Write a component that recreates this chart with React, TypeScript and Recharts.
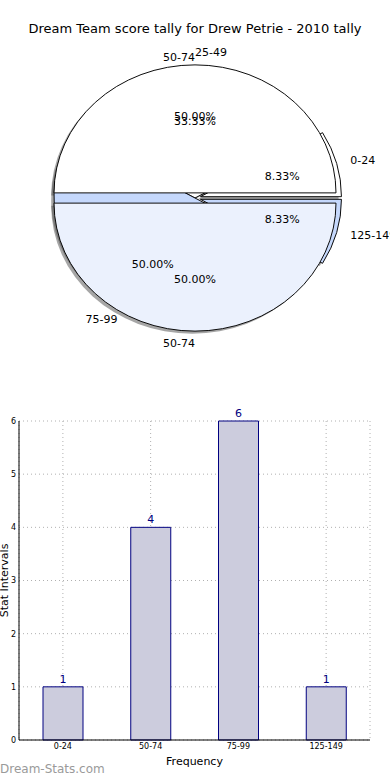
import { PieChart, Pie, Cell, BarChart, Bar, XAxis, YAxis, CartesianGrid, LabelList } from 'recharts';

// score intervals and how many games fell in each
const CATEGORIES = ['0-24', '50-74', '75-99', '125-149'];
const COUNTS = [1, 4, 6, 1];

// first pie (the real tally)
const PIE1_EXPLODE = [0.04, 0, 0, 0.04];
const PIE1_COLORS = ['#ffffff', '#ffffff', '#c5d8fc', '#c5d8fc'];
const PIE1_ANCHOR_AT_ZERO = 'end';

// second pie drawn over the first one in the source image
const PIE2_NAMES = ['25-49', '50-74'];
const PIE2_VALUES = [1, 1];
const PIE2_EXPLODE = [0.04, 0.04];
const PIE2_COLORS = ['#ffffff', '#ebf1fd'];

const Y_TICKS = [0, 1, 2, 3, 4, 5, 6];

const FONT = '"DejaVu Sans", sans-serif';
const CX = 195;
const CY = 198;
const R = 141;
const RY = 128;
const SY = RY / R;

type Slice = {
  name: string;
  value: number;
  pct: number;
  start: number;
  end: number;
  mid: number;
  offX: number;
  offY: number;
  color: string;
  zeroAnchor: string;
};

const buildSlices = (names: string[], values: number[], explode: number[], colors: string[], zeroAnchor: string): Slice[] => {
  const total = values.reduce((a, b) => a + b, 0);
  let acc = 0;
  return names.map((name, i) => {
    const start = (acc / total) * 360;
    acc += values[i];
    const end = (acc / total) * 360;
    const mid = (start + end) / 2;
    const rad = (mid * Math.PI) / 180;
    return {
      name,
      value: values[i],
      pct: (values[i] / total) * 100,
      start,
      end,
      mid,
      offX: explode[i] * R * Math.cos(rad),
      offY: -explode[i] * R * Math.sin(rad),
      color: colors[i],
      zeroAnchor,
    };
  });
};

const pie1 = buildSlices(CATEGORIES, COUNTS, PIE1_EXPLODE, PIE1_COLORS, PIE1_ANCHOR_AT_ZERO);
const pie2 = buildSlices(PIE2_NAMES, PIE2_VALUES, PIE2_EXPLODE, PIE2_COLORS, 'auto');

const barData = CATEGORIES.map((name, i) => ({ name, value: COUNTS[i] }));

const wedge = (s: Slice, key: string, shadow: boolean) => (
  <Pie
    key={key}
    data={[s]}
    dataKey="value"
    cx={CX + s.offX + (shadow ? -0.02 * R : 0)}
    cy={CY + s.offY + (shadow ? 0.02 * R : 0)}
    outerRadius={R}
    startAngle={s.start}
    endAngle={s.end}
    isAnimationActive={false}
  >
    <Cell
      fill={shadow ? '#4d4d4d' : s.color}
      fillOpacity={shadow ? 0.5 : 1}
      stroke={shadow ? 'none' : '#000'}
      strokeWidth={1}
    />
  </Pie>
);

const renderLabel = (props: any) => {
  const s: Slice = props.payload?.payload ?? props.payload ?? props;
  const a = (s.mid * Math.PI) / 180;
  const cx = CX + s.offX;
  const cy = CY + s.offY * SY;
  const cos = Math.cos(a);
  let anchor = cos > 1e-6 ? 'start' : cos < -1e-6 ? 'end' : s.zeroAnchor;
  if (anchor === 'auto') anchor = cos >= 0 ? 'start' : 'end';
  return (
    <g>
      <text
        x={cx + 1.1 * R * cos}
        y={cy - 1.1 * RY * Math.sin(a)}
        textAnchor={anchor}
        dominantBaseline="central"
        fontSize={11}
        fontFamily={FONT}
        fill="#000"
      >
        {s.name}
      </text>
      <text
        x={cx + 0.6 * R * cos}
        y={cy - 0.6 * RY * Math.sin(a)}
        textAnchor="middle"
        dominantBaseline="central"
        fontSize={11}
        fontFamily={FONT}
        fill="#000"
      >
        {s.pct.toFixed(2) + '%'}
      </text>
    </g>
  );
};

const labelPie = (s: Slice, key: string) => (
  <Pie
    key={key}
    data={[s]}
    dataKey="value"
    cx={CX + s.offX}
    cy={CY + s.offY * SY}
    outerRadius={R}
    startAngle={s.start}
    endAngle={s.end}
    fill="none"
    stroke="none"
    label={renderLabel}
    labelLine={false}
    isAnimationActive={false}
  />
);

export default function App() {
  return (
    <div style={{ position: 'absolute', left: 0, top: 0, width: 390, height: 780, background: '#fff', fontFamily: FONT, overflow: 'hidden' }}>
      <div style={{ position: 'absolute', left: 0, top: 21, width: 390, textAlign: 'center', fontSize: 13, color: '#000' }}>
        Dream Team score tally for Drew Petrie - 2010 tally
      </div>

      {/* wedges, squashed into the ellipse of the original */}
      <div style={{ position: 'absolute', left: 0, top: 0, transform: `scaleY(${SY})`, transformOrigin: `${CX}px ${CY}px` }}>
        <PieChart width={390} height={396} margin={{ top: 0, right: 0, bottom: 0, left: 0 }}>
          {pie1.map((s, i) => wedge(s, 'sh1-' + i, true))}
          {pie2.map((s, i) => wedge(s, 'sh2-' + i, true))}
          {pie1.map((s, i) => wedge(s, 'w1-' + i, false))}
          {pie2.map((s, i) => wedge(s, 'w2-' + i, false))}
        </PieChart>
      </div>

      {/* labels, not squashed */}
      <div style={{ position: 'absolute', left: 0, top: 0 }}>
        <PieChart width={400} height={396} margin={{ top: 0, right: 0, bottom: 0, left: 0 }}>
          {pie1.map((s, i) => labelPie(s, 'l1-' + i))}
          {pie2.map((s, i) => labelPie(s, 'l2-' + i))}
        </PieChart>
      </div>

      <div style={{ position: 'absolute', left: 0, top: 400 }}>
        <BarChart width={390} height={380} data={barData} margin={{ top: 21, right: 20, bottom: 0, left: 0 }} barSize={40}>
          <CartesianGrid stroke="#b0b0b0" strokeDasharray="1 3" />
          <XAxis
            dataKey="name"
            height={40}
            interval={0}
            tickLine={false}
            tickSize={3}
            tickMargin={0}
            axisLine={{ stroke: '#000' }}
            tick={{ fontSize: 8, fill: '#000', fontFamily: FONT }}
            label={{ value: 'Frequency', position: 'insideBottom', offset: 15, fontSize: 11, fill: '#000', fontFamily: FONT }}
          />
          <XAxis xAxisId="top" dataKey="name" orientation="top" height={0} tick={false} tickLine={false} axisLine={{ stroke: '#000' }} />
          <YAxis
            domain={[0, 6]}
            ticks={Y_TICKS}
            width={19}
            tickLine={false}
            tickSize={3}
            tickMargin={0}
            axisLine={{ stroke: '#000' }}
            tick={{ fontSize: 8, fill: '#000', fontFamily: FONT }}
            label={{ value: 'Stat Intervals', angle: -90, position: 'center', dx: -5, fontSize: 11, fill: '#000', fontFamily: FONT }}
          />
          <YAxis yAxisId="right" orientation="right" domain={[0, 6]} width={0} tick={false} tickLine={false} axisLine={{ stroke: '#000' }} />
          <Bar dataKey="value" fill="#ccccdd" stroke="#000080" strokeWidth={1} isAnimationActive={false}>
            <LabelList dataKey="value" position="top" offset={4} fill="#000080" fontSize={11} fontFamily={FONT} />
          </Bar>
        </BarChart>
      </div>

      <div style={{ position: 'absolute', left: 0, top: 762, fontSize: 12, color: '#9a9a9a', fontFamily: FONT }}>
        Dream-Stats.com
      </div>
    </div>
  );
}
